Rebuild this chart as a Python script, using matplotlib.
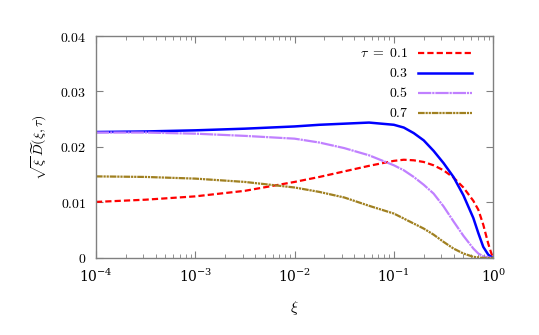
import matplotlib
matplotlib.use("Agg")
import matplotlib.pyplot as plt
import numpy as np
from matplotlib.ticker import FixedLocator, LogLocator, NullFormatter

plt.rcParams["mathtext.fontset"] = "cm"
plt.rcParams["font.family"] = "serif"
plt.rcParams["font.serif"] = ["DejaVu Serif"]

# log10(xi) sample points
log_xi = [-4, -3.5, -3, -2.5, -2, -1.75, -1.5, -1.25, -1, -0.9, -0.8, -0.7,
          -0.6, -0.5, -0.4, -0.3, -0.2, -0.15, -0.1, -0.05, -0.02, 0]

d_tau01 = [0.0101, 0.0105, 0.0111, 0.0121, 0.0137, 0.0146, 0.0156, 0.0166,
           0.0175, 0.0177, 0.0176, 0.0173, 0.0167, 0.0158, 0.0145, 0.0127,
           0.0103, 0.0087, 0.0060, 0.0026, 0.0009, 0.0]
d_tau03 = [0.0227, 0.0228, 0.0230, 0.0233, 0.0237, 0.0240, 0.0242, 0.0244,
           0.0240, 0.0235, 0.0225, 0.0212, 0.0193, 0.0171, 0.0146, 0.0113,
           0.0072, 0.0045, 0.0020, 0.0006, 0.0002, 0.0]
d_tau05 = [0.0226, 0.0226, 0.0224, 0.0220, 0.0215, 0.0208, 0.0198, 0.0185,
           0.0167, 0.0158, 0.0146, 0.0132, 0.0116, 0.0093, 0.0066, 0.0040,
           0.0017, 0.0008, 0.0003, 0.0001, 0.0, 0.0]
d_tau07 = [0.0147, 0.0146, 0.0143, 0.0137, 0.0127, 0.0119, 0.0109, 0.0094,
           0.0080, 0.0071, 0.0062, 0.0053, 0.0042, 0.0029, 0.0017, 0.0008,
           0.0002, 0.0001, 0.0, 0.0, 0.0, 0.0]

labels = [r"$\tau\ =\ 0.1$", r"$0.3$", r"$0.5$", r"$0.7$"]
y_ticks = [0, 0.01, 0.02, 0.03, 0.04]

SERIES = [
    (d_tau01, "#ff0000", (0, (2.8, 1.4)), 1.6),
    (d_tau03, "#0000ff", "-", 1.8),
    (d_tau05, "#c080ff", (0, (6, 0.4, 1, 0.4)), 1.6),
    (d_tau07, "#a08020", (0, (3, 0.4, 1, 0.4, 1, 0.4)), 1.6),
]

fig = plt.figure(figsize=(5.39, 3.35), dpi=100)
ax = fig.add_axes([0.178, 0.23, 0.737, 0.6625])

xi = 10.0 ** np.array(log_xi)
for (vals, col, ls, lw) in SERIES:
    ax.plot(xi, vals, color=col, ls=ls, lw=lw)

ax.set_xscale("log")
ax.set_xlim(1e-4, 1)
ax.set_ylim(0, 0.04)
ax.yaxis.set_major_locator(FixedLocator(y_ticks))
ax.set_yticklabels([f"${v:g}$" for v in y_ticks])
ax.xaxis.set_major_locator(LogLocator(base=10, numticks=10))
ax.xaxis.set_minor_locator(LogLocator(base=10, subs=np.arange(2, 10), numticks=10))
ax.xaxis.set_minor_formatter(NullFormatter())

grey = "#808080"
for s in ax.spines.values():
    s.set_color(grey)
    s.set_linewidth(1.0)
ax.tick_params(which="both", direction="in", top=True, right=True,
               color=grey, labelsize=10, pad=7)
ax.tick_params(which="major", length=5)
ax.tick_params(which="minor", length=3)

ax.set_xlabel(r"$\xi$", fontsize=11, labelpad=10)
ax.set_ylabel(r"$\sqrt{\xi}\,\widetilde{D}(\xi,\tau)$", fontsize=10, labelpad=8)

# gnuplot style key: text right-aligned, sample line after it
rows = [0.923, 0.835, 0.745, 0.655]
for (vals, col, ls, lw), lab, yy in zip(SERIES, labels, rows):
    ax.text(0.786, yy, lab, transform=ax.transAxes, ha="right", va="center",
            fontsize=10)
    ax.plot([0.811, 0.947], [yy, yy], transform=ax.transAxes, color=col,
            ls=ls, lw=lw, clip_on=False)

fig.savefig("out.png", dpi=100)
